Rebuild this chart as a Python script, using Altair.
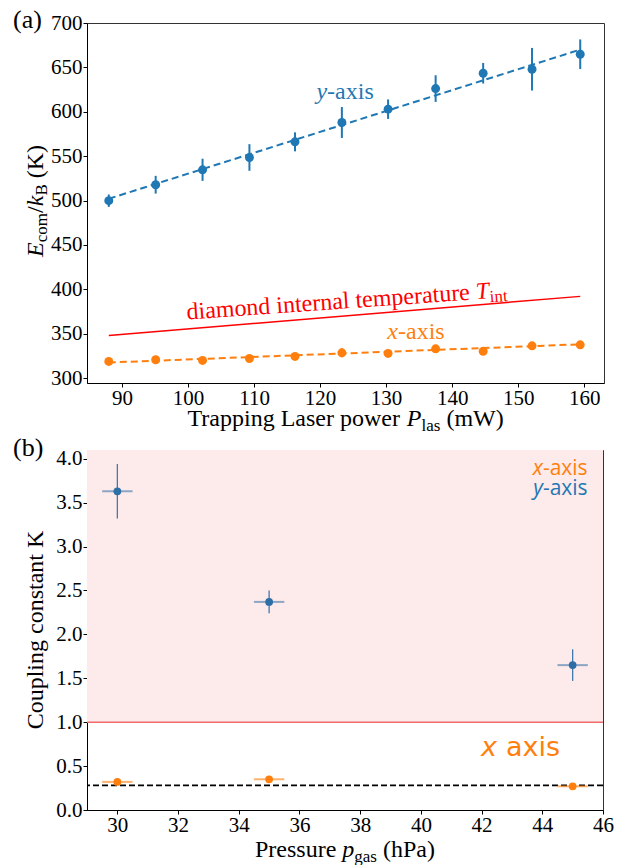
import altair as alt
import pandas as pd

# ---------------- Panel (a) data ----------------
P_las = [88.0, 95.1, 102.2, 109.3, 116.2, 123.3, 130.3, 137.5, 144.7, 152.1, 159.4]
E_y = [499.8, 517.8, 534.6, 548.5, 566.1, 587.9, 602.9, 626.1, 643.4, 647.9, 664.8]
E_y_err = [7, 10, 12.5, 15, 10.7, 17.4, 11, 15, 11.6, 24, 16.7]
E_x = [318.7, 320.6, 319.8, 322.0, 324.3, 328.4, 327.7, 332.9, 330.2, 336.3, 337.4]
E_x_err = [2.5, 2.5, 3, 2.5, 2.5, 5, 2.5, 3, 2.5, 3, 3]
fit_P = [88.0, 159.4]
fit_E_y = [502, 670]
fit_E_x = [317.5, 338]
T_int = [348, 392]

# ---------------- Panel (b) data ----------------
p_gas = [30, 35, 45]
p_err = [0.5, 0.5, 0.5]
K_y = [3.63, 2.37, 1.65]
K_y_err = [0.31, 0.13, 0.18]
K_x = [0.32, 0.35, 0.27]
K_x_err = [0.012, 0.012, 0.012]
K_x_mean = [0.28]
K_limit = [1.0]
K_top = [4.1]
p_range = [29, 46]

BLUE = "#1f77b4"
ORANGE = "#ff7f0e"
BLUE_B = "#2e6ea6"
SERIF = "Liberation Serif"

df_a = pd.DataFrame({
    "P": P_las,
    "Ey": E_y, "Ey_lo": [v - e for v, e in zip(E_y, E_y_err)], "Ey_hi": [v + e for v, e in zip(E_y, E_y_err)],
    "Ex": E_x, "Ex_lo": [v - e for v, e in zip(E_x, E_x_err)], "Ex_hi": [v + e for v, e in zip(E_x, E_x_err)],
})
df_fit = pd.DataFrame({"P": fit_P, "fy": fit_E_y, "fx": fit_E_x, "T": T_int})

df_b = pd.DataFrame({
    "p": p_gas,
    "p_lo": [v - e for v, e in zip(p_gas, p_err)], "p_hi": [v + e for v, e in zip(p_gas, p_err)],
    "Ky": K_y, "Ky_lo": [v - e for v, e in zip(K_y, K_y_err)], "Ky_hi": [v + e for v, e in zip(K_y, K_y_err)],
    "Kx": K_x, "Kx_lo": [v - e for v, e in zip(K_x, K_x_err)], "Kx_hi": [v + e for v, e in zip(K_x, K_x_err)],
})

one = pd.DataFrame({"d": [0]})

xa_scale = alt.Scale(domain=[84.7, 163], nice=False, zero=False)
ya_scale = alt.Scale(domain=[294.4, 700], nice=False, zero=False)
xb_scale = alt.Scale(domain=p_range, nice=False, zero=False)
yb_scale = alt.Scale(domain=[0, K_top[0]], nice=False, zero=False)

ax_xa = alt.Axis(values=list(range(90, 161, 10)), title=None, labelFlush=False, labelOverlap=False)
ax_ya = alt.Axis(values=list(range(300, 701, 50)), title=None, labelFlush=False, labelOverlap=False)
ax_xb = alt.Axis(values=list(range(30, 47, 2)), title=None, labelFlush=False, labelOverlap=False)
ax_yb = alt.Axis(values=[0, 0.5, 1, 1.5, 2, 2.5, 3, 3.5, 4], format=".1f", title=None,
                 labelFlush=False, labelOverlap=False)


def XA(f):
    return alt.X(f"{f}:Q", scale=xa_scale, axis=ax_xa)


def YA(f):
    return alt.Y(f"{f}:Q", scale=ya_scale, axis=ax_ya)


def XB(f):
    return alt.X(f"{f}:Q", scale=xb_scale, axis=ax_xb)


def YB(f):
    return alt.Y(f"{f}:Q", scale=yb_scale, axis=ax_yb)


def txt(text, x, y, size=24, style="normal", angle=0, align="left", color="black", font=SERIF):
    return alt.Chart(one).mark_text(
        text=text, font=font, fontSize=size, fontStyle=style, angle=angle, align=align,
        baseline="alphabetic", color=color
    ).encode(x=alt.value(x), y=alt.value(y))


def atxt(text, xv, yv, XF, YF, size=24, style="normal", angle=0, align="left", color="black",
         font=SERIF, dx=0, dy=0):
    d = pd.DataFrame({"ax": [xv], "ay": [yv]})
    return alt.Chart(d).mark_text(
        text=text, font=font, fontSize=size, fontStyle=style, angle=angle, align=align,
        baseline="alphabetic", color=color, dx=dx, dy=dy
    ).encode(x=XF("ax"), y=YF("ay"))


# ---------------- Panel (a) ----------------
a_layers = [
    alt.Chart(df_fit).mark_line(color="red", strokeWidth=1.5).encode(x=XA("P"), y=YA("T")),
    alt.Chart(df_a).mark_rule(color=BLUE, strokeWidth=2).encode(x=XA("P"), y=YA("Ey_lo"), y2="Ey_hi"),
    alt.Chart(df_fit).mark_line(color=BLUE, strokeWidth=2, strokeDash=[7, 4]).encode(x=XA("P"), y=YA("fy")),
    alt.Chart(df_a).mark_circle(color=BLUE, size=80, opacity=1).encode(x=XA("P"), y=YA("Ey")),
    alt.Chart(df_a).mark_rule(color=ORANGE, strokeWidth=2).encode(x=XA("P"), y=YA("Ex_lo"), y2="Ex_hi"),
    alt.Chart(df_fit).mark_line(color=ORANGE, strokeWidth=2, strokeDash=[7, 4]).encode(x=XA("P"), y=YA("fx")),
    alt.Chart(df_a).mark_circle(color=ORANGE, size=80, opacity=1).encode(x=XA("P"), y=YA("Ex")),
    # series labels
    atxt("y", 121.06, 614.5, XA, YA, size=24, style="italic", align="right", color=BLUE),
    atxt("-axis", 121.06, 614.5, XA, YA, size=24, align="left", color=BLUE),
    atxt("x", 131.8, 344.2, XA, YA, size=24, style="italic", align="right", color=ORANGE),
    atxt("-axis", 131.8, 344.2, XA, YA, size=24, align="left", color=ORANGE),
    # diamond internal temperature label (rotated along the red line; dx/dy in the rotated frame)
    atxt("diamond internal temperature", 99.85, 365.9, XA, YA, size=24, angle=356, color="red"),
    atxt("T", 99.85, 365.9, XA, YA, size=24, style="italic", angle=356, color="red", dx=290),
    atxt("int", 99.85, 365.9, XA, YA, size=17, angle=356, color="red", dx=303.5, dy=4),
    # panel label
    txt("(a)", -74, 5, size=26),
    # y title  E_com / k_B (K)
    txt("E", -44, 234, style="italic", angle=270),
    txt("com", -40, 219.3, size=17, angle=270),
    txt("/", -44, 190, angle=270),
    txt("k", -44, 183.3, style="italic", angle=270),
    txt("B", -40, 172.6, size=17, angle=270),
    txt("(K)", -44, 155.3, angle=270),
    # x title  Trapping Laser power P_las (mW)
    txt("Trapping Laser power", 100.5, 403),
    txt("P", 319.8, 403, style="italic"),
    txt("las", 334.5, 408, size=17),
    txt("(mW)", 359.4, 403),
]
top = alt.layer(*a_layers).properties(width=517, height=360)

# ---------------- Panel (b) ----------------
df_region = pd.DataFrame({"x0": [p_range[0]], "x1": [p_range[1]], "y0": K_limit, "y1": K_top})
b_layers = [
    alt.Chart(df_region).mark_rect(color="#fdeaea").encode(x=XB("x0"), x2="x1", y=YB("y0"), y2="y1"),
    alt.Chart(pd.DataFrame({"K": K_limit})).mark_rule(color="#ef6a6a", strokeWidth=1.5).encode(y=YB("K")),
    alt.Chart(pd.DataFrame({"K": K_x_mean})).mark_rule(color="black", strokeWidth=1.8, strokeDash=[6, 3]).encode(y=YB("K")),
    # x-axis (orange)
    alt.Chart(df_b).mark_rule(color=ORANGE, strokeWidth=2, opacity=0.6).encode(x=XB("p_lo"), x2="p_hi", y=YB("Kx")),
    alt.Chart(df_b).mark_rule(color=ORANGE, strokeWidth=1.2, opacity=0.8).encode(x=XB("p"), y=YB("Kx_lo"), y2="Kx_hi"),
    alt.Chart(df_b).mark_circle(color=ORANGE, size=60, opacity=1).encode(x=XB("p"), y=YB("Kx")),
    # y-axis (blue)
    alt.Chart(df_b).mark_rule(color=BLUE_B, strokeWidth=2, opacity=0.55).encode(x=XB("p_lo"), x2="p_hi", y=YB("Ky")),
    alt.Chart(df_b).mark_rule(color=BLUE_B, strokeWidth=1.3, opacity=0.9).encode(x=XB("p"), y=YB("Ky_lo"), y2="Ky_hi"),
    alt.Chart(df_b).mark_circle(color=BLUE_B, size=60, opacity=1).encode(x=XB("p"), y=YB("Ky")),
    # legend text
    atxt("x", 44.02, 3.81, XB, YB, size=21, style="italic", align="right", color=ORANGE, font="Open Sans"),
    atxt("-axis", 44.02, 3.81, XB, YB, size=21, align="left", color=ORANGE, font="Open Sans"),
    atxt("y", 44.02, 3.585, XB, YB, size=21, style="italic", align="right", color=BLUE, font="Open Sans"),
    atxt("-axis", 44.02, 3.585, XB, YB, size=21, align="left", color=BLUE, font="Open Sans"),
    # big x axis label
    atxt("x", 42.51, 0.616, XB, YB, size=27, style="italic", align="right", color=ORANGE, font="DejaVu Sans"),
    atxt("axis", 42.51, 0.616, XB, YB, size=27, align="left", color=ORANGE, font="DejaVu Sans", dx=9),
    # panel label
    txt("(b)", -74, 6, size=26),
    # y title
    txt("Coupling constant K", -44, 180, angle=270, align="center"),
    # x title  Pressure p_gas (hPa)
    txt("Pressure", 168, 407),
    txt("p", 255.3, 407, style="italic"),
    txt("gas", 267.3, 412, size=17),
    txt("(hPa)", 296, 407),
]
bottom = alt.layer(*b_layers).properties(width=516, height=360)

chart = (
    alt.vconcat(top, bottom, spacing=67, bounds="flush")
    .properties(padding={"left": 12, "top": 6, "right": 4, "bottom": 0}, background="white")
    .configure_view(stroke="#333333", strokeWidth=1)
    .configure_axis(
        grid=False, domainColor="black", domainWidth=1, tickColor="black", tickWidth=1, tickSize=4,
        labelFont=SERIF, labelFontSize=21, labelColor="black",
    )
    .configure_axisX(labelPadding=0)
    .configure_axisY(labelPadding=1)
)

chart.save("out.html", embed_options={"renderer": "svg", "actions": False})
